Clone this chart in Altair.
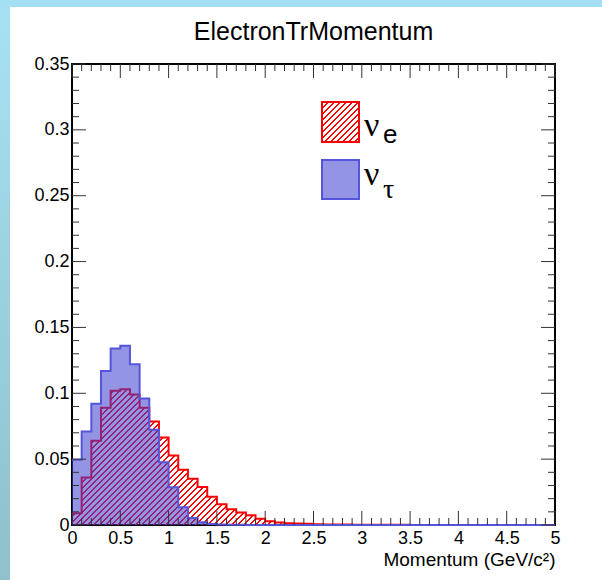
import altair as alt
import pandas as pd

# ---------------- data ----------------
bin_left = [round(0.1 * i, 1) for i in range(50)]
x_end = 5.0

nu_e = [0.0090, 0.0360, 0.0640, 0.0890, 0.1020, 0.1030, 0.0990, 0.0890, 0.0785, 0.0665,
        0.0527, 0.0420, 0.0352, 0.0288, 0.0215, 0.0158, 0.0120, 0.0095, 0.0074, 0.0048,
        0.0029, 0.0019, 0.0014, 0.0011, 0.0010, 0.0006, 0.0004, 0.0003, 0.0003, 0.0002,
        0.0002, 0.0001, 0.0001, 0.0001, 0.0001, 0, 0, 0, 0, 0,
        0, 0, 0, 0, 0, 0, 0, 0, 0, 0]

nu_tau = [0.0495, 0.0710, 0.0920, 0.1170, 0.1340, 0.1360, 0.1220, 0.0960, 0.0723, 0.0477,
          0.0287, 0.0134, 0.0053, 0.0020, 0.0008, 0.0004, 0.0002, 0.0001, 0, 0,
          0, 0, 0, 0, 0, 0, 0, 0, 0, 0,
          0, 0, 0, 0, 0, 0, 0, 0, 0, 0,
          0, 0, 0, 0, 0, 0, 0, 0, 0, 0]

x_major = [0, 0.5, 1, 1.5, 2, 2.5, 3, 3.5, 4, 4.5, 5]
y_major = [0, 0.05, 0.1, 0.15, 0.2, 0.25, 0.3, 0.35]
x_minor = [round(0.1 * i, 1) for i in range(51) if i % 5]
y_minor = [round(0.01 * i, 2) for i in range(36) if i % 5]

title_text = "ElectronTrMomentum"
x_title = "Momentum (GeV/c²)"

# ---------------- layout / style ----------------
W, H = 483, 461
X_MAX, Y_MAX = 5, 0.35
FONT = "Liberation Sans"
RED = "#ff0000"
BLUE_LINE = "#5555dc"
BLUE_FILL = "#3c3cd0"
BLUE_OP = 0.55


def hatch(w, h, spacing=6.0, frac=0.33, color=RED):
    total = w + h
    n = max(1, int(round(total / spacing)))
    a = total / (w * w + h * h)
    stops = []
    clear = "rgba(255,255,255,0)"
    for i in range(n):
        o0, o1, o2 = i / n, (i + frac) / n, (i + 1) / n
        stops += [alt.GradientStop(color=color, offset=o0),
                  alt.GradientStop(color=color, offset=o1),
                  alt.GradientStop(color=clear, offset=o1),
                  alt.GradientStop(color=clear, offset=o2)]
    return alt.LinearGradient(gradient="linear", stops=stops, x1=0, y1=0, x2=w * a, y2=h * a)


def steps(vals):
    return pd.DataFrame({"x": bin_left + [x_end], "y": list(vals) + [vals[-1]]})


xs = alt.Scale(domain=[0, X_MAX], nice=False, zero=False)
ys = alt.Scale(domain=[0, Y_MAX], nice=False)

x_axis = alt.Axis(values=x_major, format="~g", labelFont=FONT, labelFontSize=18,
                  labelColor="black", labelPadding=4, labelFlush=False, labelOverlap=False,
                  domain=False, ticks=False, grid=False,
                  title=x_title, titleFont=FONT, titleFontSize=19, titleFontWeight="normal",
                  titleColor="black", titleX=W, titleY=40, titleAlign="right",
                  titleBaseline="alphabetic", titleAnchor="end")
y_axis = alt.Axis(values=y_major, format="~g", labelFont=FONT, labelFontSize=18,
                  labelColor="black", labelPadding=3, labelFlush=False, labelOverlap=False,
                  domain=False, ticks=False, grid=False, title="")

X = lambda: alt.X("x:Q", scale=xs, axis=x_axis)
Y = lambda: alt.Y("y:Q", scale=ys, axis=y_axis)

one = pd.DataFrame({"a": [0]})

# decorative window border (left and top strips)
strip_left = alt.Chart(one).mark_rect(
    fill=alt.LinearGradient(gradient="linear", x1=0, y1=0, x2=0, y2=1,
                            stops=[alt.GradientStop(color="#a6e2f5", offset=0),
                                   alt.GradientStop(color="#8fc0cb", offset=1)])
).encode(x=alt.value(-72), x2=alt.value(-62), y=alt.value(-64), y2=alt.value(580 - 64))
strip_top = alt.Chart(one).mark_rect(fill="#a3e0f3").encode(
    x=alt.value(-72), x2=alt.value(602 - 72), y=alt.value(-64), y2=alt.value(-57))

# histograms
red_h = max(nu_e) / Y_MAX * H
red_area = alt.Chart(steps(nu_e)).mark_area(
    interpolate="step-after", fill=hatch(W, red_h)).encode(x=X(), y=Y())
red_line = alt.Chart(steps(nu_e)).mark_line(
    interpolate="step-after", color=RED, strokeWidth=2).encode(x=X(), y=Y())
blue_area = alt.Chart(steps(nu_tau)).mark_area(
    interpolate="step-after", color=BLUE_FILL, opacity=BLUE_OP).encode(x=X(), y=Y())
blue_line = alt.Chart(steps(nu_tau)).mark_line(
    interpolate="step-after", color=BLUE_LINE, strokeWidth=2).encode(x=X(), y=Y())

# inward ticks on all four sides
TICK = dict(color="#333333", strokeWidth=1)
xmaj = pd.DataFrame({"x": x_major})
xmin = pd.DataFrame({"x": x_minor})
ymaj = pd.DataFrame({"y": y_major})
ymin = pd.DataFrame({"y": y_minor})
ticks = [
    alt.Chart(xmaj).mark_rule(**TICK).encode(x=X(), y=alt.value(H), y2=alt.value(H - 14)),
    alt.Chart(xmin).mark_rule(**TICK).encode(x=X(), y=alt.value(H), y2=alt.value(H - 7)),
    alt.Chart(xmaj).mark_rule(**TICK).encode(x=X(), y=alt.value(0), y2=alt.value(14)),
    alt.Chart(xmin).mark_rule(**TICK).encode(x=X(), y=alt.value(0), y2=alt.value(7)),
    alt.Chart(ymaj).mark_rule(**TICK).encode(y=Y(), x=alt.value(0), x2=alt.value(14)),
    alt.Chart(ymin).mark_rule(**TICK).encode(y=Y(), x=alt.value(0), x2=alt.value(7)),
    alt.Chart(ymaj).mark_rule(**TICK).encode(y=Y(), x=alt.value(W), x2=alt.value(W - 14)),
    alt.Chart(ymin).mark_rule(**TICK).encode(y=Y(), x=alt.value(W), x2=alt.value(W - 7)),
]

# legend
leg_red_box = alt.Chart(one).mark_rect(fill=hatch(37, 40, spacing=6.0), stroke=RED,
                                       strokeWidth=2).encode(
    x=alt.value(250), x2=alt.value(287), y=alt.value(38), y2=alt.value(78))
leg_blue_box = alt.Chart(one).mark_rect(fill=BLUE_FILL, fillOpacity=BLUE_OP, stroke=BLUE_LINE,
                                        strokeWidth=2).encode(
    x=alt.value(250), x2=alt.value(287), y=alt.value(96), y2=alt.value(135))
leg_texts = [
    alt.Chart(one).mark_text(text="ν", font="Liberation Serif", fontSize=34, align="left",
                             baseline="alphabetic", color="black").encode(
        x=alt.value(292), y=alt.value(72)),
    alt.Chart(one).mark_text(text="e", font=FONT, fontSize=26, align="left",
                             baseline="alphabetic", color="black").encode(
        x=alt.value(311), y=alt.value(79)),
    alt.Chart(one).mark_text(text="ν", font="Liberation Serif", fontSize=34, align="left",
                             baseline="alphabetic", color="black").encode(
        x=alt.value(292), y=alt.value(121)),
    alt.Chart(one).mark_text(text="τ", font="Liberation Serif", fontSize=28, align="left",
                             baseline="alphabetic", color="black").encode(
        x=alt.value(311), y=alt.value(134)),
]

title = alt.Chart(one).mark_text(text=title_text, font=FONT, fontSize=25, align="center",
                                 baseline="alphabetic", color="black").encode(
    x=alt.value(W / 2), y=alt.value(-24))

chart = alt.layer(
    strip_left, strip_top, red_area, red_line, blue_area, blue_line, *ticks,
    leg_red_box, leg_blue_box, *leg_texts, title
).properties(
    width=W, height=H,
    autosize=alt.AutoSizeParams(type="none"),
    padding={"left": 72, "top": 64, "right": 602 - 72 - W, "bottom": 580 - 64 - H},
    background="white",
).configure_view(stroke="black", strokeWidth=2)

chart.save("out.html", embed_options={"renderer": "svg", "actions": False})
